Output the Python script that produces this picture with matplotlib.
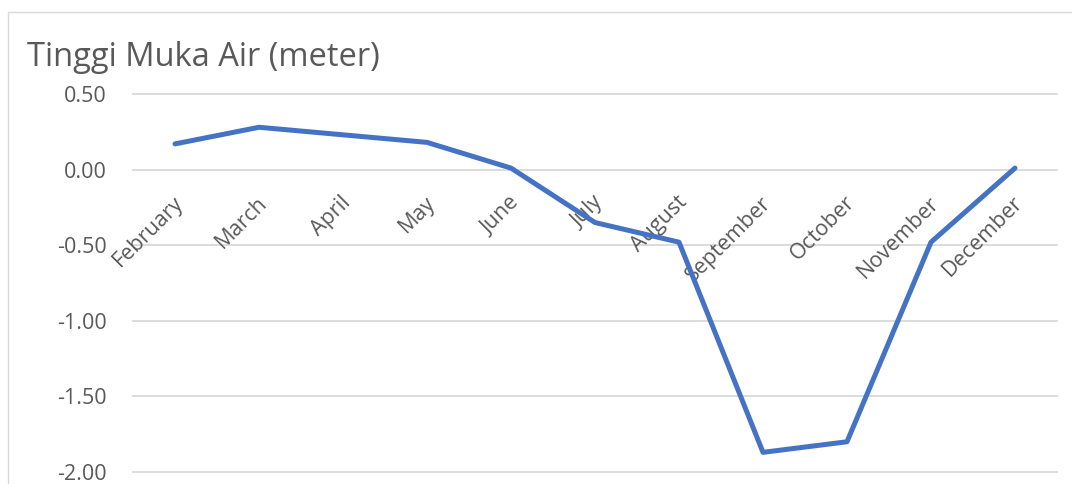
import matplotlib
matplotlib.use("Agg")
import matplotlib.pyplot as plt
from matplotlib.patches import Rectangle
import matplotlib.transforms as mtransforms

months = ["February", "March", "April", "May", "June", "July",
          "August", "September", "October", "November", "December"]
water_level = [0.17, 0.28, 0.23, 0.18, 0.01, -0.35, -0.48, -1.87, -1.80, -0.48, 0.01]
y_ticks = [0.50, 0.00, -0.50, -1.00, -1.50, -2.00]
title = "Tinggi Muka Air (meter)"

W, H = 1072, 484
fig = plt.figure(figsize=(W / 100, H / 100), dpi=100)
fig.patch.set_facecolor("white")

# outer chart border
fig.patches.append(Rectangle((8 / W, -0.1), 1.2, (H - 12) / H + 0.1,
                             transform=fig.transFigure, fill=False,
                             edgecolor="#d9d9d9", linewidth=1.0))

ax = fig.add_axes([133 / W, 1 - 472 / H, (1057 - 133) / W, (472 - 94) / H])
ax.set_xlim(-0.5, len(months) - 0.5)
ax.set_ylim(-2.0, 0.5)
for s in ax.spines.values():
    s.set_visible(False)

for t in y_ticks:
    ax.axhline(t, color="#d9d9d9", linewidth=1.3, zorder=1, clip_on=False)

ax.plot(range(len(months)), water_level, color="#4472c4", linewidth=3.6,
        solid_joinstyle="round", solid_capstyle="round", zorder=3)

ax.set_yticks(y_ticks)
ax.set_yticklabels([f"{t:.2f}" for t in y_ticks], fontsize=15.5,
                   color="#595959", family="Open Sans")
ax.tick_params(axis="y", length=0, pad=19)
ax.set_xticks([])

for i, m in enumerate(months):
    off = mtransforms.offset_copy(ax.transData, fig=fig, x=5, y=-30, units="dots")
    ax.text(i, 0, m, transform=off, rotation=45, rotation_mode="anchor",
            ha="right", va="center", fontsize=15.5, color="#595959",
            family="Open Sans", zorder=2)

fig.text(27 / W, 1 - 66 / H, title, fontsize=23.5, color="#595959",
         family="Open Sans", ha="left", va="baseline")

fig.savefig("out.png", dpi=100, facecolor="white")
